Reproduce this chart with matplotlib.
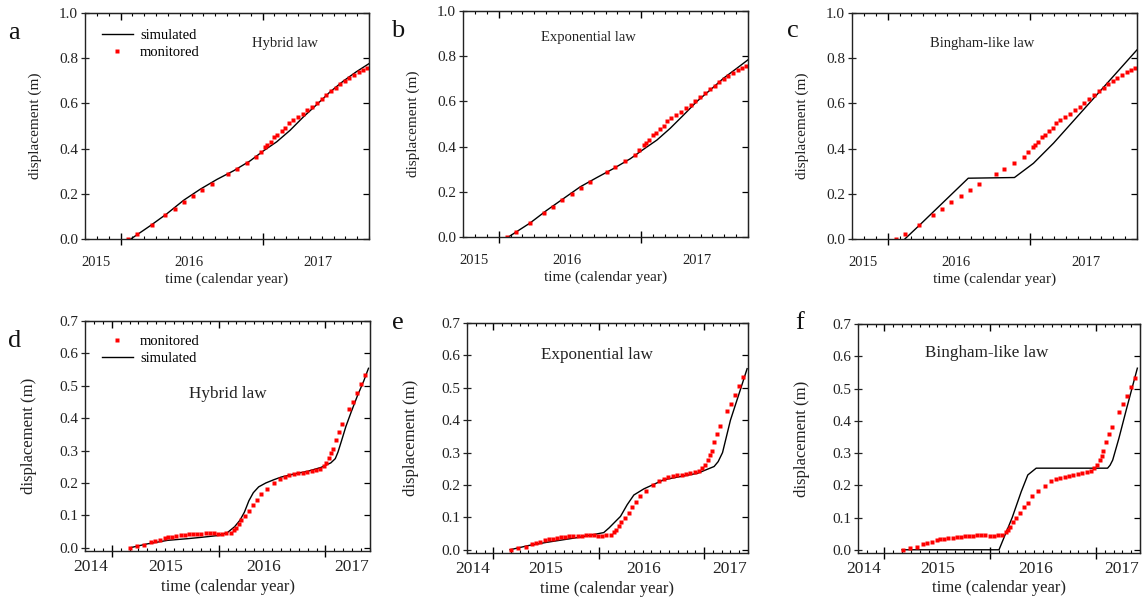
import matplotlib
matplotlib.use('Agg')
import matplotlib.pyplot as plt
import numpy as np
from matplotlib.ticker import MultipleLocator, FormatStrFormatter

plt.rcParams['font.family'] = ['Liberation Serif', 'DejaVu Serif']

# ---- data (x in months from the left edge of each axis) ----
# top row: monitored displacement
top_mon_t = [3.67, 4.43, 5.63, 6.78, 7.57, 8.35, 9.14, 9.92, 10.71, 12.1, 12.84, 13.68,
             14.46, 14.86, 15.22, 15.42, 15.7, 15.98, 16.26, 16.62, 16.9, 17.21, 17.55,
             17.97, 18.39, 18.78, 19.2, 19.57, 19.99, 20.38, 20.8, 21.2, 21.59, 21.95,
             22.34, 22.71, 23.13, 23.5, 23.86]
top_mon_d = [0.0, 0.021, 0.062, 0.106, 0.133, 0.163, 0.191, 0.218, 0.244, 0.286, 0.309, 0.336,
             0.365, 0.383, 0.406, 0.418, 0.43, 0.452, 0.462, 0.48, 0.492, 0.512, 0.526,
             0.54, 0.553, 0.57, 0.586, 0.602, 0.62, 0.638, 0.654, 0.67, 0.686, 0.7,
             0.714, 0.726, 0.74, 0.75, 0.758]
# top row: simulated
hyb_top_t = [3.87, 5.55, 6.95, 8.35, 9.76, 11.16, 12.56, 13.96, 15.08, 16.2, 17.33, 18.45,
             19.57, 20.69, 21.81, 22.93, 24.0]
hyb_top_d = [0.0, 0.06, 0.113, 0.172, 0.221, 0.264, 0.302, 0.346, 0.39, 0.43, 0.481, 0.54,
             0.594, 0.65, 0.698, 0.74, 0.776]
exp_top_t = [3.82, 5.65, 7.05, 8.46, 9.87, 11.27, 12.68, 14.08, 15.2, 16.33, 17.45, 18.58,
             19.7, 20.83, 21.95, 23.07, 24.0]
exp_top_d = [0.0, 0.062, 0.118, 0.17, 0.222, 0.263, 0.303, 0.346, 0.388, 0.429, 0.481, 0.54,
             0.6, 0.651, 0.703, 0.747, 0.784]
bing_top_t = [4.45, 5.7, 9.79, 13.68, 15.28, 16.97, 24.0]
bing_top_d = [0.0, 0.062, 0.269, 0.272, 0.335, 0.424, 0.837]

# bottom row: monitored displacement
bot_mon_t = [5.06, 5.85, 6.68, 7.43, 7.88, 8.37, 8.93, 9.31, 9.79, 10.24, 10.74, 11.19,
             11.64, 12.12, 12.61, 13.06, 13.55, 14.0, 14.46, 14.94, 15.39, 15.88, 16.37,
             16.74, 17.0, 17.27, 17.57, 17.95, 18.4, 18.81, 19.26, 19.75, 20.38, 21.22,
             21.89, 22.46, 22.94, 23.47, 23.95, 24.44, 24.97, 25.45, 25.95, 26.4, 26.8,
             27.1, 27.45, 27.65, 27.85, 28.15, 28.5, 28.85, 29.65, 30.1, 30.55, 30.95, 31.4]
bot_mon_d = [0.0, 0.004, 0.01, 0.018, 0.021, 0.025, 0.029, 0.032, 0.034, 0.036, 0.038, 0.04,
             0.041, 0.042, 0.043, 0.044, 0.045, 0.045, 0.045, 0.044, 0.044, 0.045, 0.047,
             0.054, 0.062, 0.072, 0.085, 0.098, 0.113, 0.132, 0.146, 0.167, 0.182, 0.199,
             0.213, 0.219, 0.224, 0.227, 0.23, 0.232, 0.235, 0.237, 0.24, 0.244, 0.253,
             0.262, 0.278, 0.291, 0.305, 0.333, 0.358, 0.381, 0.428, 0.451, 0.477, 0.505, 0.532]
# bottom row: simulated
hyb_bot_t = [5.06, 7.0, 9.3, 11.5, 13.0, 15.0, 16.0, 16.8, 17.4, 17.9, 18.4, 18.9, 19.5,
             20.3, 21.2, 22.0, 23.5, 25.0, 26.5, 27.6, 28.1, 28.4, 28.8, 29.3, 29.9, 30.6,
             31.3, 31.83]
hyb_bot_d = [0.0, 0.012, 0.023, 0.028, 0.032, 0.038, 0.047, 0.065, 0.085, 0.11, 0.145, 0.17,
             0.188, 0.2, 0.21, 0.218, 0.228, 0.236, 0.248, 0.262, 0.275, 0.295, 0.33, 0.375,
             0.42, 0.47, 0.515, 0.554]
exp_bot_t = [4.9, 7.0, 9.1, 12.9, 15.57, 16.2, 16.71, 17.48, 18.24, 19.0, 20.14, 21.28,
             22.4, 24.3, 26.25, 28.14, 28.6, 29.1, 30.0, 31.2, 31.9]
exp_bot_d = [0.0, 0.013, 0.023, 0.039, 0.053, 0.068, 0.082, 0.103, 0.139, 0.169, 0.188,
             0.202, 0.216, 0.226, 0.236, 0.257, 0.272, 0.3, 0.4, 0.5, 0.559]
bing_bot_t = [5.0, 16.0, 17.5, 18.52, 19.27, 20.22, 28.32, 28.6, 28.9, 29.6, 30.5, 31.7]
bing_bot_d = [0.0, 0.0, 0.1, 0.18, 0.232, 0.253, 0.253, 0.262, 0.278, 0.345, 0.44, 0.563]

top_years = ['2015', '2016', '2017']
top_year_pos = [0.9, 8.75, 19.7]
bot_years = ['2014', '2015', '2016', '2017']
bot_year_pos = [0.6, 9.0, 20.1, 29.9]

W, H = 1142, 603
fig = plt.figure(figsize=(W / 100, H / 100), dpi=100)

# panel boxes in pixels: left, top, right, bottom
panels = [
    dict(box=(85, 13, 369, 239), letter='a', law='Hybrid law', law_xy=(285, 43),
         sim=(hyb_top_t, hyb_top_d), top=True),
    dict(box=(463, 11, 748, 237), letter='b', law='Exponential law', law_xy=(588, 37),
         sim=(exp_top_t, exp_top_d), top=True),
    dict(box=(852, 13, 1137, 239), letter='c', law='Bingham-like law', law_xy=(982, 43),
         sim=(bing_top_t, bing_top_d), top=True),
    dict(box=(85, 321, 370, 551), letter='d', law='Hybrid law', law_xy=(228, 394),
         sim=(hyb_bot_t, hyb_bot_d), top=False),
    dict(box=(467, 323, 748, 553), letter='e', law='Exponential law', law_xy=(597, 355),
         sim=(exp_bot_t, exp_bot_d), top=False),
    dict(box=(858, 324, 1140, 553), letter='f', law='Bingham-like law', law_xy=(987, 353),
         sim=(bing_bot_t, bing_bot_d), top=False),
]
letter_xy = {'a': (14, 33), 'b': (398, 31), 'c': (793, 31),
             'd': (15, 341), 'e': (398, 323), 'f': (800, 323)}

for p in panels:
    l, t, r, b = p['box']
    ax = fig.add_axes([l / W, 1 - b / H, (r - l) / W, (b - t) / H])
    if p['top']:
        mon_t, mon_d = top_mon_t, top_mon_d
        xmax, ylim, ystep = 24, (0, 1.0), 0.2
        years, ypos = top_years, top_year_pos
        fs_lab, fs_law, fs_year = 11, 10.5, 10.5
        year_y, xlab_y, ylab_x = -0.105, -0.18, -0.15
    else:
        mon_t, mon_d = bot_mon_t, bot_mon_d
        xmax, ylim, ystep = 32, (-0.01, 0.7), 0.1
        years, ypos = bot_years, bot_year_pos
        fs_lab, fs_law, fs_year = 12, 12.3, 12.5
        year_y, xlab_y, ylab_x = -0.07, -0.155, -0.17
    # simulated curve and monitored points
    ax.plot(p['sim'][0], p['sim'][1], color='black', lw=1.0, label='simulated')
    ax.plot(mon_t, mon_d, 's', color='red', ms=2.8, mec='none', label='monitored')
    ax.set_xlim(0, xmax)
    ax.set_ylim(*ylim)
    ax.set_xticks([3, 15, 27] if xmax > 27 else [3, 15])
    ax.xaxis.set_minor_locator(MultipleLocator(1))
    ax.set_xticklabels([])
    ax.set_yticks(np.arange(0, ylim[1] + 0.001, ystep))
    ax.yaxis.set_major_formatter(FormatStrFormatter('%.1f'))
    ax.tick_params(axis='x', which='major', direction='inout', length=9, width=1)
    ax.tick_params(axis='x', which='minor', direction='in', length=2.5, width=0.8)
    ax.tick_params(axis='y', which='major', direction='inout', length=6, width=0.9,
                   labelsize=11, pad=2, colors='#222222')
    for s in ax.spines.values():
        s.set_linewidth(1.0)
        s.set_color('#222222')
    # top and right ticks pointing inwards
    sx = ax.secondary_xaxis('top')
    sx.set_xticks(ax.get_xticks())
    sx.xaxis.set_minor_locator(MultipleLocator(1))
    sx.set_xticklabels([])
    sx.tick_params(axis='x', which='major', direction='in', length=5, width=1)
    sx.tick_params(axis='x', which='minor', direction='in', length=2.5, width=0.8)
    sy = ax.secondary_yaxis('right')
    sy.set_yticks(ax.get_yticks())
    sy.set_yticklabels([])
    sy.tick_params(axis='y', direction='in', length=4, width=0.9)
    # year labels
    for yl, xp in zip(years, ypos):
        ax.text(xp, year_y, yl, transform=ax.get_xaxis_transform(), ha='center',
                va='center', fontsize=fs_year, color='#222222')
    ax.text(0.5, xlab_y, 'time (calendar year)', transform=ax.transAxes, ha='center',
            va='center', fontsize=fs_lab, color='#222222')
    ax.set_ylabel('displacement (m)', fontsize=fs_lab, color='#222222')
    ax.yaxis.set_label_coords(ylab_x, 0.5)
    # law name and panel letter
    fig.text(p['law_xy'][0] / W, 1 - p['law_xy'][1] / H, p['law'], ha='center', va='center',
             fontsize=fs_law, color='#222222')
    lx, ly = letter_xy[p['letter']]
    fig.text(lx / W, 1 - ly / H, p['letter'], ha='center', va='center', fontsize=19,
             color='#111111')
    # legends only in a and d
    if p['letter'] == 'a':
        ax.legend(loc='upper left', bbox_to_anchor=(0.06, 0.93), frameon=False,
                  fontsize=10.5, handlelength=2.1, handletextpad=0.5, labelspacing=0.25,
                  borderpad=0, borderaxespad=0, numpoints=1)
    if p['letter'] == 'd':
        h, lab = ax.get_legend_handles_labels()
        ax.legend(h[::-1], lab[::-1], loc='upper left', bbox_to_anchor=(0.06, 0.94),
                  frameon=False, fontsize=10.5, handlelength=2.1, handletextpad=0.5,
                  labelspacing=0.25, borderpad=0, borderaxespad=0, numpoints=1)

fig.savefig('out.png', dpi=100)
